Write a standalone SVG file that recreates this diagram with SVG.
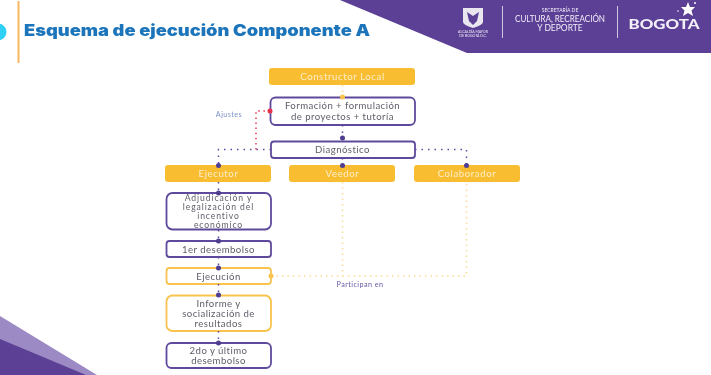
<svg xmlns="http://www.w3.org/2000/svg" width="711" height="375" viewBox="0 0 711 375">
<defs><filter id="soft" x="0" y="0" width="100%" height="100%" filterUnits="objectBoundingBox"><feGaussianBlur stdDeviation="0.45"/></filter></defs>
<style>
.y{fill:#f9bd33}
.w{fill:#fff;stroke:#5f4a9c;stroke-width:1.8}
.wy{fill:#fff;stroke:#f9c34e;stroke-width:1.8}
text{font-family:"Lato","Liberation Sans",sans-serif;text-anchor:middle}
.t{font-size:9.6px;letter-spacing:.45px;fill:#5e5e6a}
.t4{font-size:8.6px;letter-spacing:.9px;fill:#5e5e6a}
.l{font-size:9.6px;letter-spacing:.6px;fill:#fdeec8}
.s{font-size:7.2px;letter-spacing:.45px;fill:#6a5aa8}
.h{fill:#f3eff8}
.p{fill:none;stroke:#5f4a9c;stroke-width:1.5;stroke-dasharray:1.5 5}
.o{fill:none;stroke:#fbdc97;stroke-width:1.5;stroke-dasharray:1.5 4}
.r{fill:none;stroke:#e8304a;stroke-width:1.4;stroke-dasharray:1.5 3.6}
.d{fill:#4f3c8f}
</style>
<rect width="711" height="375" fill="#fff"/>
<g filter="url(#soft)">
<g id="header">
<circle cx="-2" cy="32" r="8.5" fill="#2fd0f5"/>
<rect x="17.5" y="1" width="2" height="62" fill="#f9b95c"/>
<text x="197" y="36" style="font-family:'Inter','Liberation Sans',sans-serif;font-size:15.5px;font-weight:900;fill:#1b75bb" textLength="346" lengthAdjust="spacingAndGlyphs">Esquema de ejecución Componente A</text>
<polygon points="340,0 711,0 711,53 467,53" fill="#5b3f95"/>
<path d="M463 8h20v14q0 3-10 6q-10-3-10-6z" fill="#e9e6f0"/>
<path d="M467 12l6 4l6-4l-2 9l-4 4l-4-4z" fill="#5b3f95"/>
<text x="473" y="32.500" class="h" style="font-size:3.500px">ALCALDÍA MAYOR</text>
<text x="473" y="37" class="h" style="font-size:3.500px">DE BOGOTÁ D.C.</text>
<rect x="502" y="6" width="1" height="32" fill="#cfc6e2"/>
<text x="560" y="12" class="h" style="font-size:5px">SECRETARÍA DE</text>
<text x="560" y="22" class="h" style="font-size:8.500px" textLength="90" lengthAdjust="spacingAndGlyphs">CULTURA, RECREACIÓN</text>
<text x="560" y="31" class="h" style="font-size:8.500px">Y DEPORTE</text>
<rect x="617" y="6" width="1" height="32" fill="#cfc6e2"/>
<text x="664" y="29" class="h" style="font-size:13.500px;font-weight:900" textLength="71" lengthAdjust="spacingAndGlyphs">BOGOTA</text>
<polygon points="688,2 690,7 695,7 691.500,10.500 693,16 688,13 683,16 684.500,10.500 681,7 686,7" fill="#fff"/>
<circle cx="695" cy="3" r="1" fill="#fff"/>
<circle cx="678" cy="11" r="0.800" fill="#fff"/>
</g>
<g id="corner">
<polygon points="0,316 97,375 0,375" fill="#9c8ac4"/>
<polygon points="0,339 86,375 0,375" fill="#5b3f95"/>
</g>
<g id="n-constructor"><rect class="y" x="269" y="68" width="146" height="17" rx="3"/><text class="l" x="342.500" y="80">Constructor Local</text></g>
<g id="n-formacion"><rect class="w" x="270.500" y="97.500" width="144.500" height="27.500" rx="5"/><text class="t" x="342.500" y="109">Formación + formulación</text><text class="t" x="342.500" y="120">de proyectos + tutoría</text></g>
<g id="n-diagnostico"><rect class="w" x="271" y="141.500" width="144" height="16.500" rx="3"/><text class="t" x="342.500" y="153">Diagnóstico</text></g>
<g id="n-ejecutor"><rect class="y" x="165" y="165" width="106" height="17" rx="3"/><text class="l" x="218.500" y="177">Ejecutor</text></g>
<g id="n-veedor"><rect class="y" x="289" y="165" width="106" height="17" rx="3"/><text class="l" x="342.500" y="177">Veedor</text></g>
<g id="n-colaborador"><rect class="y" x="414" y="165" width="106" height="17" rx="3"/><text class="l" x="467" y="177">Colaborador</text></g>
<g id="n-adjudicacion"><rect class="w" x="166.500" y="193" width="104.500" height="36.500" rx="6"/><text class="t4" x="218.500" y="201">Adjudicación y</text><text class="t4" x="218.500" y="210">legalización del</text><text class="t4" x="218.500" y="219">incentivo</text><text class="t4" x="218.500" y="228">económico</text></g>
<g id="n-desembolso1"><rect class="w" x="166.500" y="241" width="104.500" height="16" rx="3"/><text class="t" x="218.500" y="252.500">1er desembolso</text></g>
<g id="n-ejecucion"><rect class="wy" x="166.500" y="268" width="104.500" height="16" rx="3"/><text class="t" x="218.500" y="280">Ejecución</text></g>
<g id="n-informe"><rect class="wy" x="166.500" y="295.500" width="104.500" height="35.500" rx="6"/><text class="t" x="218.500" y="307">Informe y</text><text class="t" x="218.500" y="317">socialización de</text><text class="t" x="218.500" y="326.500">resultados</text></g>
<g id="n-desembolso2"><rect class="w" x="166.500" y="343" width="104.500" height="25" rx="5"/><text class="t" x="218.500" y="354">2do y último</text><text class="t" x="218.500" y="364">desembolso</text></g>
<g id="connectors">
<path class="o" d="M342.500 85V97"/>
<path class="p" d="M342.500 125V138"/>
<path class="r" d="M270 111H256V150"/>
<path class="p" d="M271 149.500H218.500V165"/>
<path class="p" d="M415 149.500H466.500V165"/>
<path class="p" d="M342.500 158V165"/>
<path class="p" d="M218.500 182V193"/>
<path class="p" d="M218.500 230V241"/>
<path class="p" d="M218.500 257V268"/>
<path class="p" d="M218.500 284V295"/>
<path class="p" d="M218.500 331V343"/>
<path class="o" d="M271 276H466.500V182"/>
<path class="o" d="M342.500 182V276"/>
<circle cx="342.500" cy="97" r="2.500" fill="#f9c34e"/>
<circle cx="270" cy="111" r="2.500" fill="#e8304a"/>
<circle cx="342.500" cy="138" r="2.500" class="d"/>
<circle cx="218.500" cy="165.500" r="2.500" class="d"/>
<circle cx="342.500" cy="165.500" r="2.500" class="d"/>
<circle cx="466.500" cy="165.500" r="2.500" class="d"/>
<circle cx="218.500" cy="193" r="2.500" class="d"/>
<circle cx="218.500" cy="241" r="2.500" class="d"/>
<circle cx="218.500" cy="268" r="2.500" class="d"/>
<circle cx="218.500" cy="295" r="2.500" class="d"/>
<circle cx="218.500" cy="343" r="2.500" class="d"/>
<circle cx="271" cy="276" r="2.500" fill="#f9c34e"/>
</g>
<g id="labels">
<text class="s" x="229" y="117" style="fill:#7d93c9">Ajustes</text>
<text class="s" x="360" y="287">Participan en</text>
</g>
</g>
</svg>
